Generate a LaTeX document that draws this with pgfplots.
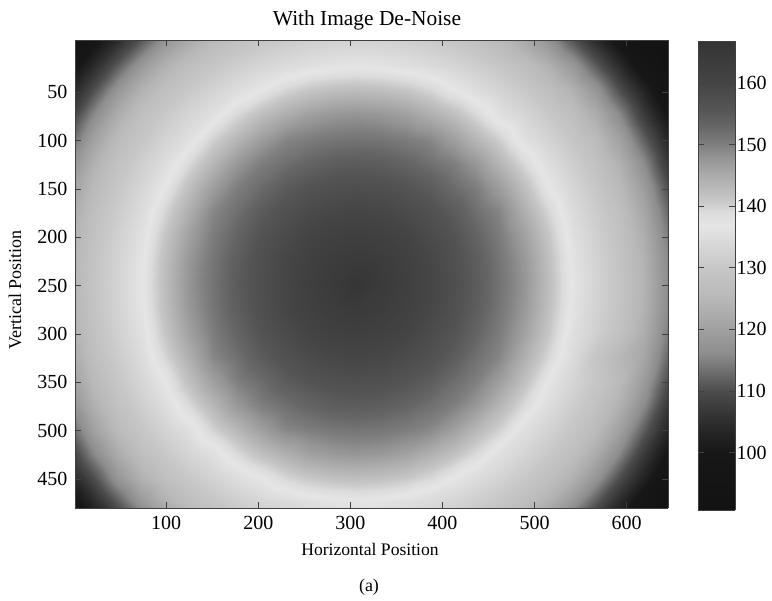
\documentclass[border=0pt]{standalone}
\usepackage{fontspec}
\setmainfont{Liberation Serif}
\usepackage{pgfplots}
\pgfplotsset{compat=1.18}
\pgfplotsset{
  colormap={refgray}{gray(90)=(0.07);gray(100)=(0.09);gray(103)=(0.14);gray(106)=(0.2);gray(110)=(0.3);gray(113)=(0.42);gray(116)=(0.55);gray(120)=(0.63);gray(125)=(0.72);gray(130)=(0.78);gray(134)=(0.85);gray(137)=(0.9);gray(139)=(0.86);gray(141)=(0.78);gray(145)=(0.67);gray(148)=(0.58);gray(150)=(0.5);gray(153)=(0.4);gray(156)=(0.33);gray(160)=(0.27);gray(167)=(0.2)},
  refaxis/.style={
    scale only axis,view={0}{90},
    point meta min=90,point meta max=167,
    tick align=inside,
    tick style={black!75,line width=0.7pt},
    major tick length=6pt,
    axis line style={black!75,line width=0.9pt},
    ticklabel style={font=\fontsize{20}{22}\selectfont,/pgf/number format/assume math mode=true},
    axis on top,
  }
}
\begin{document}
\begin{tikzpicture}[x=1pt,y=1pt]
\path[use as bounding box] (-75,-93) rectangle (697,508);
\begin{axis}[
  refaxis,
  at={(0pt,0pt)},anchor=south west,
  width=593pt,height=468pt,
  xmin=1,xmax=645,ymin=-4,ymax=480,y dir=reverse,
  xtick={100,200,300,400,500,600},
  ytick={50,100,150,200,250,300,350,400,450},
  yticklabels={50,100,150,200,250,300,350,500,450},
  xticklabel style={yshift=-5pt},
  yticklabel style={xshift=-4pt},
]
\addplot3[surf,shader=interp,mesh/cols=26] table[row sep=\\,x=x,y=y,z=z]{
x y z\\
-5 -27 92.4\\21 -27 98.4\\47 -27 104.4\\73 -27 110\\99 -27 115.6\\125 -27 120\\151 -27 123.4\\177 -27 125.7\\203 -27 127.3\\229 -27 128.2\\255 -27 128.8\\281 -27 128.8\\307 -27 129\\333 -27 128.8\\359 -27 128.2\\385 -27 127.3\\411 -27 125.7\\437 -27 123.4\\463 -27 120\\489 -27 115.6\\515 -27 110\\541 -27 104.4\\567 -27 98.4\\593 -27 92.4\\619 -27 91.4\\645 -27 91\\
-5 -2 92\\21 -2 98.4\\47 -2 104.9\\73 -2 111.5\\99 -2 117.9\\125 -2 122.4\\151 -2 126\\177 -2 128.2\\203 -2 129.8\\229 -2 131.1\\255 -2 132\\281 -2 132.6\\307 -2 132.8\\333 -2 132.6\\359 -2 132\\385 -2 131.1\\411 -2 129.8\\437 -2 128.2\\463 -2 126\\489 -2 122.4\\515 -2 117.9\\541 -2 111.5\\567 -2 104.9\\593 -2 98.4\\619 -2 92\\645 -2 91.3\\
-5 23 97\\21 23 104.4\\47 23 111.5\\73 23 118.5\\99 23 123.7\\125 23 127.3\\151 23 129.7\\177 23 131.7\\203 23 133.3\\229 23 134.6\\255 23 135.6\\281 23 136.4\\307 23 136.8\\333 23 136.4\\359 23 135.6\\385 23 134.6\\411 23 133.3\\437 23 131.7\\463 23 129.7\\489 23 127.3\\515 23 123.7\\541 23 118.5\\567 23 111.5\\593 23 104.4\\619 23 97\\645 23 91.8\\
-5 48 102.8\\21 48 110\\47 48 117.9\\73 48 123.7\\99 48 127.7\\125 48 130.4\\151 48 132.8\\177 48 135\\203 48 137.1\\229 48 139.6\\255 48 141.3\\281 48 142.2\\307 48 142.5\\333 48 142.2\\359 48 141.3\\385 48 139.6\\411 48 137.1\\437 48 135\\463 48 132.8\\489 48 130.4\\515 48 127.7\\541 48 123.7\\567 48 117.9\\593 48 110\\619 48 102.8\\645 48 94.8\\
-5 73 107.1\\21 73 115.6\\47 73 122.4\\73 73 127.3\\99 73 130.4\\125 73 133.1\\151 73 135.6\\177 73 139.2\\203 73 142.2\\229 73 144.5\\255 73 146.4\\281 73 147.5\\307 73 147.9\\333 73 147.5\\359 73 146.4\\385 73 144.5\\411 73 142.2\\437 73 139.2\\463 73 135.6\\489 73 133.1\\515 73 130.4\\541 73 127.3\\567 73 122.4\\593 73 115.6\\619 73 107.1\\645 73 99.4\\
-5 98 111.8\\21 98 120\\47 98 126\\73 98 129.7\\99 98 132.8\\125 98 135.6\\151 98 140\\177 98 143.4\\203 98 146.7\\229 98 149.3\\255 98 150.4\\281 98 151.1\\307 98 151.4\\333 98 151.1\\359 98 150.4\\385 98 149.3\\411 98 146.7\\437 98 143.4\\463 98 140\\489 98 135.6\\515 98 132.8\\541 98 129.7\\567 98 126\\593 98 120\\619 98 111.8\\645 98 103.6\\
-5 123 116\\21 123 123.4\\47 123 128.2\\73 123 131.7\\99 123 135\\125 123 139.2\\151 123 143.4\\177 123 147.5\\203 123 150.2\\229 123 151.9\\255 123 153.4\\281 123 154.4\\307 123 154.8\\333 123 154.4\\359 123 153.4\\385 123 151.9\\411 123 150.2\\437 123 147.5\\463 123 143.4\\489 123 139.2\\515 123 135\\541 123 131.7\\567 123 128.2\\593 123 123.4\\619 123 116\\645 123 106.7\\
-5 148 119.1\\21 148 125.7\\47 148 129.8\\73 148 133.3\\99 148 137.1\\125 148 142.2\\151 148 146.7\\177 148 150.2\\203 148 152.4\\229 148 154.8\\255 148 156.3\\281 148 157.2\\307 148 157.5\\333 148 157.2\\359 148 156.3\\385 148 154.8\\411 148 152.4\\437 148 150.2\\463 148 146.7\\489 148 142.2\\515 148 137.1\\541 148 133.3\\567 148 129.8\\593 148 125.7\\619 148 119.1\\645 148 110\\
-5 173 121.2\\21 173 127.3\\47 173 131.1\\73 173 134.6\\99 173 139.6\\125 173 144.5\\151 173 149.3\\177 173 151.9\\203 173 154.8\\229 173 156.9\\255 173 158.5\\281 173 159.6\\307 173 160\\333 173 159.6\\359 173 158.5\\385 173 156.9\\411 173 154.8\\437 173 151.9\\463 173 149.3\\489 173 144.5\\515 173 139.6\\541 173 134.6\\567 173 131.1\\593 173 127.3\\619 173 121.2\\645 173 112.6\\
-5 198 122.8\\21 198 128.2\\47 198 132\\73 198 135.6\\99 198 141.3\\125 198 146.4\\151 198 150.4\\177 198 153.4\\203 198 156.3\\229 198 158.5\\255 198 160.4\\281 198 161.8\\307 198 162.3\\333 198 161.8\\359 198 160.4\\385 198 158.5\\411 198 156.3\\437 198 153.4\\463 198 150.4\\489 198 146.4\\515 198 141.3\\541 198 135.6\\567 198 132\\593 198 128.2\\619 198 122.8\\645 198 114.5\\
-5 223 123.7\\21 223 128.8\\47 223 132.6\\73 223 136.4\\99 223 142.2\\125 223 147.5\\151 223 151.1\\177 223 154.4\\203 223 157.2\\229 223 159.6\\255 223 161.8\\281 223 163.3\\307 223 164.1\\333 223 163.3\\359 223 161.8\\385 223 159.6\\411 223 157.2\\437 223 154.4\\463 223 151.1\\489 223 147.5\\515 223 142.2\\541 223 136.4\\567 223 132.6\\593 223 128.8\\619 223 123.7\\645 223 115.6\\
-5 248 124\\21 248 129\\47 248 132.8\\73 248 136.8\\99 248 142.5\\125 248 147.9\\151 248 151.4\\177 248 154.8\\203 248 157.5\\229 248 160\\255 248 162.3\\281 248 164.1\\307 248 166\\333 248 164.1\\359 248 162.3\\385 248 160\\411 248 157.5\\437 248 154.8\\463 248 151.4\\489 248 147.9\\515 248 142.5\\541 248 136.8\\567 248 132.8\\593 248 129\\619 248 124\\645 248 116\\
-5 273 123.7\\21 273 128.8\\47 273 132.6\\73 273 136.4\\99 273 142.2\\125 273 147.5\\151 273 151.1\\177 273 154.4\\203 273 157.2\\229 273 159.6\\255 273 161.8\\281 273 163.3\\307 273 164.1\\333 273 163.3\\359 273 161.8\\385 273 159.6\\411 273 157.2\\437 273 154.4\\463 273 151.1\\489 273 147.5\\515 273 142.2\\541 273 136.4\\567 273 132.6\\593 273 128.8\\619 273 123.7\\645 273 115.6\\
-5 298 122.8\\21 298 128.2\\47 298 132\\73 298 135.6\\99 298 141.3\\125 298 146.4\\151 298 150.4\\177 298 153.4\\203 298 156.3\\229 298 158.5\\255 298 160.4\\281 298 161.8\\307 298 162.3\\333 298 161.8\\359 298 160.4\\385 298 158.5\\411 298 156.3\\437 298 153.4\\463 298 150.4\\489 298 146.4\\515 298 141.3\\541 298 135.6\\567 298 132\\593 298 128.2\\619 298 122.8\\645 298 114.5\\
-5 323 121.2\\21 323 127.3\\47 323 131.1\\73 323 134.6\\99 323 139.6\\125 323 144.5\\151 323 149.3\\177 323 151.9\\203 323 154.8\\229 323 156.9\\255 323 158.5\\281 323 159.6\\307 323 160\\333 323 159.6\\359 323 158.5\\385 323 156.9\\411 323 154.8\\437 323 151.9\\463 323 149.3\\489 323 144.5\\515 323 139.6\\541 323 134.6\\567 323 129.5\\593 323 125\\619 323 121.2\\645 323 112.6\\
-5 348 119.1\\21 348 125.7\\47 348 129.8\\73 348 133.3\\99 348 137.1\\125 348 142.2\\151 348 146.7\\177 348 150.2\\203 348 152.4\\229 348 154.8\\255 348 156.3\\281 348 157.2\\307 348 157.5\\333 348 157.2\\359 348 156.3\\385 348 154.8\\411 348 152.4\\437 348 150.2\\463 348 146.7\\489 348 142.2\\515 348 137.1\\541 348 133.3\\567 348 129.8\\593 348 125.7\\619 348 119.1\\645 348 110\\
-5 373 116\\21 373 123.4\\47 373 128.2\\73 373 131.7\\99 373 135\\125 373 139.2\\151 373 143.4\\177 373 147.5\\203 373 150.2\\229 373 151.9\\255 373 153.4\\281 373 154.4\\307 373 154.8\\333 373 154.4\\359 373 153.4\\385 373 151.9\\411 373 150.2\\437 373 147.5\\463 373 143.4\\489 373 139.2\\515 373 135\\541 373 131.7\\567 373 128.2\\593 373 123.4\\619 373 116\\645 373 106.7\\
-5 398 111.8\\21 398 120\\47 398 126\\73 398 129.7\\99 398 132.8\\125 398 135.6\\151 398 140\\177 398 143.4\\203 398 146.7\\229 398 149.3\\255 398 150.4\\281 398 151.1\\307 398 151.4\\333 398 151.1\\359 398 150.4\\385 398 149.3\\411 398 146.7\\437 398 143.4\\463 398 140\\489 398 135.6\\515 398 132.8\\541 398 129.7\\567 398 126\\593 398 120\\619 398 111.8\\645 398 103.6\\
-5 423 107.1\\21 423 115.6\\47 423 122.4\\73 423 127.3\\99 423 130.4\\125 423 133.1\\151 423 135.6\\177 423 139.2\\203 423 142.2\\229 423 144.5\\255 423 146.4\\281 423 147.5\\307 423 147.9\\333 423 147.5\\359 423 146.4\\385 423 144.5\\411 423 142.2\\437 423 139.2\\463 423 135.6\\489 423 133.1\\515 423 130.4\\541 423 127.3\\567 423 122.4\\593 423 115.6\\619 423 107.1\\645 423 99.4\\
-5 448 102.8\\21 448 110\\47 448 117.9\\73 448 123.7\\99 448 127.7\\125 448 130.4\\151 448 132.8\\177 448 135\\203 448 137.1\\229 448 139.6\\255 448 141.3\\281 448 142.2\\307 448 142.5\\333 448 142.2\\359 448 141.3\\385 448 139.6\\411 448 137.1\\437 448 135\\463 448 132.8\\489 448 130.4\\515 448 127.7\\541 448 123.7\\567 448 117.9\\593 448 110\\619 448 102.8\\645 448 94.8\\
-5 473 97\\21 473 104.4\\47 473 111.5\\73 473 118.5\\99 473 123.7\\125 473 127.3\\151 473 129.7\\177 473 131.7\\203 473 133.3\\229 473 134.6\\255 473 135.6\\281 473 136.4\\307 473 136.8\\333 473 136.4\\359 473 135.6\\385 473 134.6\\411 473 133.3\\437 473 131.7\\463 473 129.7\\489 473 127.3\\515 473 123.7\\541 473 118.5\\567 473 111.5\\593 473 104.4\\619 473 97\\645 473 91.8\\
-5 498 92\\21 498 98.4\\47 498 104.9\\73 498 111.5\\99 498 117.9\\125 498 122.4\\151 498 126\\177 498 128.2\\203 498 129.8\\229 498 131.1\\255 498 132\\281 498 132.6\\307 498 132.8\\333 498 132.6\\359 498 132\\385 498 131.1\\411 498 129.8\\437 498 128.2\\463 498 126\\489 498 122.4\\515 498 117.9\\541 498 111.5\\567 498 104.9\\593 498 98.4\\619 498 92\\645 498 91.3\\
};
\end{axis}
\begin{axis}[
  refaxis,
  at={(623pt,-2pt)},anchor=south west,
  width=37pt,height=469pt,
  xmin=0,xmax=1,ymin=90.7,ymax=166.8,
  xtick=\empty,
  ytick={100,110,120,130,140,150,160},
  ytick pos=both,
  yticklabel pos=right,
  yticklabel style={xshift=-2pt},
]
\addplot3[surf,shader=interp,mesh/cols=2] table[row sep=\\,x=x,y=y,z=z]{
x y z\\
0 90.7 90.7\\1 90.7 90.7\\
0 100 100\\1 100 100\\
0 103 103\\1 103 103\\
0 106 106\\1 106 106\\
0 110 110\\1 110 110\\
0 113 113\\1 113 113\\
0 116 116\\1 116 116\\
0 120 120\\1 120 120\\
0 125 125\\1 125 125\\
0 130 130\\1 130 130\\
0 134 134\\1 134 134\\
0 137 137\\1 137 137\\
0 139 139\\1 139 139\\
0 141 141\\1 141 141\\
0 145 145\\1 145 145\\
0 148 148\\1 148 148\\
0 150 150\\1 150 150\\
0 153 153\\1 153 153\\
0 156 156\\1 156 156\\
0 160 160\\1 160 160\\
0 166.8 166.8\\1 166.8 166.8\\
};
\end{axis}
\node[font=\fontsize{21.4}{23}\selectfont] at (292,488) {With Image De-Noise};
\node[font=\fontsize{17.6}{20}\selectfont] at (295,-41) {Horizontal Position};
\node[font=\fontsize{18}{20}\selectfont,rotate=90] at (-60,218) {Vertical Position};
\node[font=\fontsize{18}{20}\selectfont] at (294,-79) {(a)};
\end{tikzpicture}
\end{document}
